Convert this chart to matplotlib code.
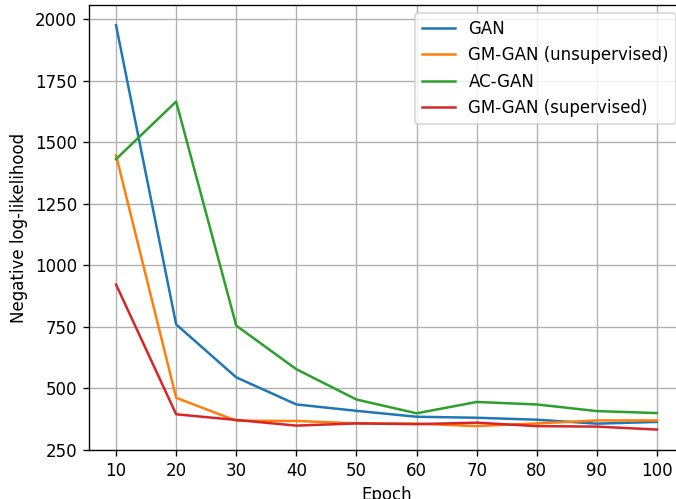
import numpy as np
import matplotlib
matplotlib.use("Agg")
import matplotlib.pyplot as plt

epochs = [10, 20, 30, 40, 50, 60, 70, 80, 90, 100]
gan = [1975, 760, 545, 435, 409, 385, 381, 373, 357, 364]
gm_gan_unsup = [1447, 462, 369, 368, 358, 357, 347, 358, 370, 370]
ac_gan = [1431, 1665, 755, 578, 455, 399, 445, 435, 408, 400]
gm_gan_sup = [922, 395, 372, 349, 358, 355, 361, 347, 345, 333]

# original looks like it was saved at 120 dpi
fig = plt.figure(figsize=(676 / 120, 499 / 120), dpi=120)
ax = fig.add_axes([89 / 676, 49 / 499, 595 / 676, 445 / 499])

ax.plot(epochs, gan, label="GAN")
ax.plot(epochs, gm_gan_unsup, label="GM-GAN (unsupervised)")
ax.plot(epochs, ac_gan, label="AC-GAN")
ax.plot(epochs, gm_gan_sup, label="GM-GAN (supervised)")

ax.set_xticks(epochs)
ax.set_yticks([250, 500, 750, 1000, 1250, 1500, 1750, 2000])
ax.set_ylim(250, 2057)
ax.set_xlabel("Epoch")
ax.set_ylabel("Negative log-likelihood")
ax.grid(True)
ax.legend(loc="upper right")

fig.savefig("out.png", dpi=120)
